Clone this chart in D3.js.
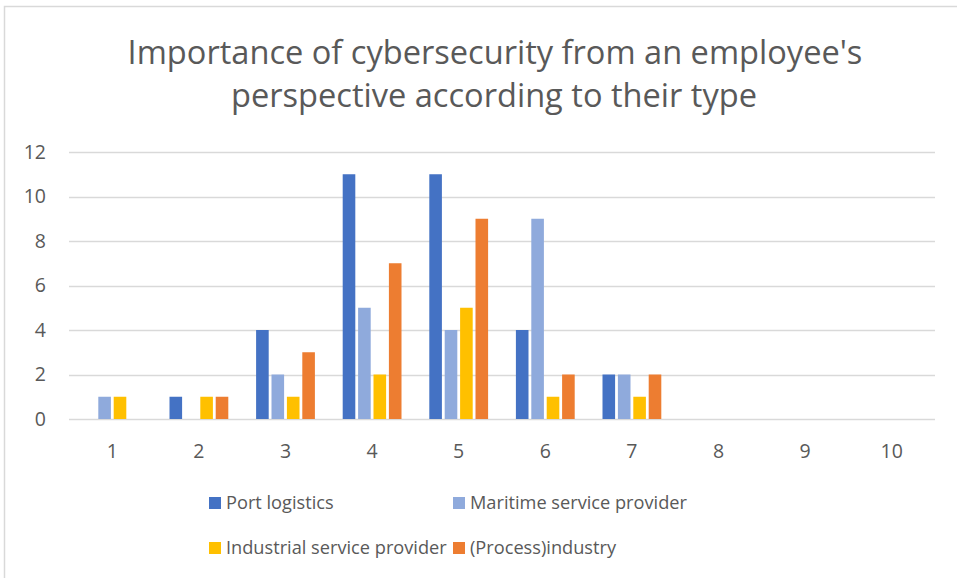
<!DOCTYPE html>
<html><head><meta charset="utf-8">
<script src="https://cdn.jsdelivr.net/npm/d3@7"></script>
<style>body{margin:0;background:#fff}svg{display:block}</style>
</head><body>
<script>
const categories = ["1","2","3","4","5","6","7","8","9","10"];
const seriesNames = ["Port logistics","Maritime service provider","Industrial service provider","(Process)industry"];
const portLogistics = [0,1,4,11,11,4,2,0,0,0];
const maritimeServiceProvider = [1,0,2,5,4,9,2,0,0,0];
const industrialServiceProvider = [1,1,1,2,5,1,1,0,0,0];
const processIndustry = [0,1,3,7,9,2,2,0,0,0];
const yTicks = [0,2,4,6,8,10,12];
const colors = ["#4472C4","#8FAADC","#FFC000","#ED7D31"];
const seriesValues = [portLogistics, maritimeServiceProvider, industrialServiceProvider, processIndustry];

const W = 957, H = 578;
const svg = d3.select("body").append("svg").attr("width", W).attr("height", H);
const font = "'Open Sans', 'Liberation Sans', sans-serif";
const textColor = "#595959";

// chart border
svg.append("path").attr("d", `M4.5,${H} V6.5 H${W}`).attr("fill","none").attr("stroke","#d9d9d9").attr("stroke-width",1.5);

// title
const title = svg.append("text").attr("text-anchor","middle").attr("fill",textColor)
  .style("font-family", font).style("font-size","32.6px");
title.append("tspan").attr("x",495).attr("y",64).text("Importance of cybersecurity from an employee's");
title.append("tspan").attr("x",494).attr("y",107).text("perspective according to their type");

const x0 = 69, x1 = 935, yTop = 152, yBot = 419;
const x = d3.scaleBand().domain(categories).range([x0, x1]).padding(0);
const y = d3.scaleLinear().domain([0,12]).range([yBot, yTop]);
const slot = 15.4, barW = 12.6;
const xs = d3.scaleBand().domain(seriesNames).range([-slot*2, slot*2]).padding(0);

// grid
svg.append("g").selectAll("line").data(yTicks).join("line")
  .attr("x1", x0).attr("x2", x1)
  .attr("y1", d => Math.round(y(d))+0.5).attr("y2", d => Math.round(y(d))+0.5)
  .attr("stroke", "#d9d9d9").attr("stroke-width", 1.3);

// y labels
svg.append("g").selectAll("text").data(yTicks).join("text")
  .attr("x", 46).attr("y", d => y(d)).attr("dy","0.35em").attr("text-anchor","end")
  .attr("fill", textColor).style("font-family", font).style("font-size","19.5px").text(d => d);

// x labels
svg.append("g").selectAll("text").data(categories).join("text")
  .attr("x", d => x(d) + x.bandwidth()/2).attr("y", 451).attr("dy","0.35em").attr("text-anchor","middle")
  .attr("fill", textColor).style("font-family", font).style("font-size","19.5px").text(d => d);

// bars
const barData = [];
seriesNames.forEach((s, si) => categories.forEach((c, ci) => barData.push({s, si, c, v: seriesValues[si][ci]})));
svg.append("g").selectAll("rect").data(barData.filter(d => d.v > 0)).join("rect")
  .attr("x", d => x(d.c) + x.bandwidth()/2 + xs(d.s) + (slot-barW)/2)
  .attr("width", barW)
  .attr("y", d => y(d.v))
  .attr("height", d => y(0) - y(d.v))
  .attr("fill", d => colors[d.si]);

// legend
const legendPos = [[209,503],[453,503],[209,548],[453,548]];
const lg = svg.append("g").selectAll("g").data(seriesNames).join("g")
  .attr("transform", (d,i) => `translate(${legendPos[i][0]},${legendPos[i][1]})`);
lg.append("rect").attr("x",0).attr("y",-6).attr("width",12).attr("height",12).attr("fill",(d,i)=>colors[i]);
lg.append("text").attr("x",17).attr("y",0).attr("dy","0.35em").attr("fill",textColor)
  .style("font-family", font).style("font-size","18.2px").text(d => d);
</script>
</body></html>
